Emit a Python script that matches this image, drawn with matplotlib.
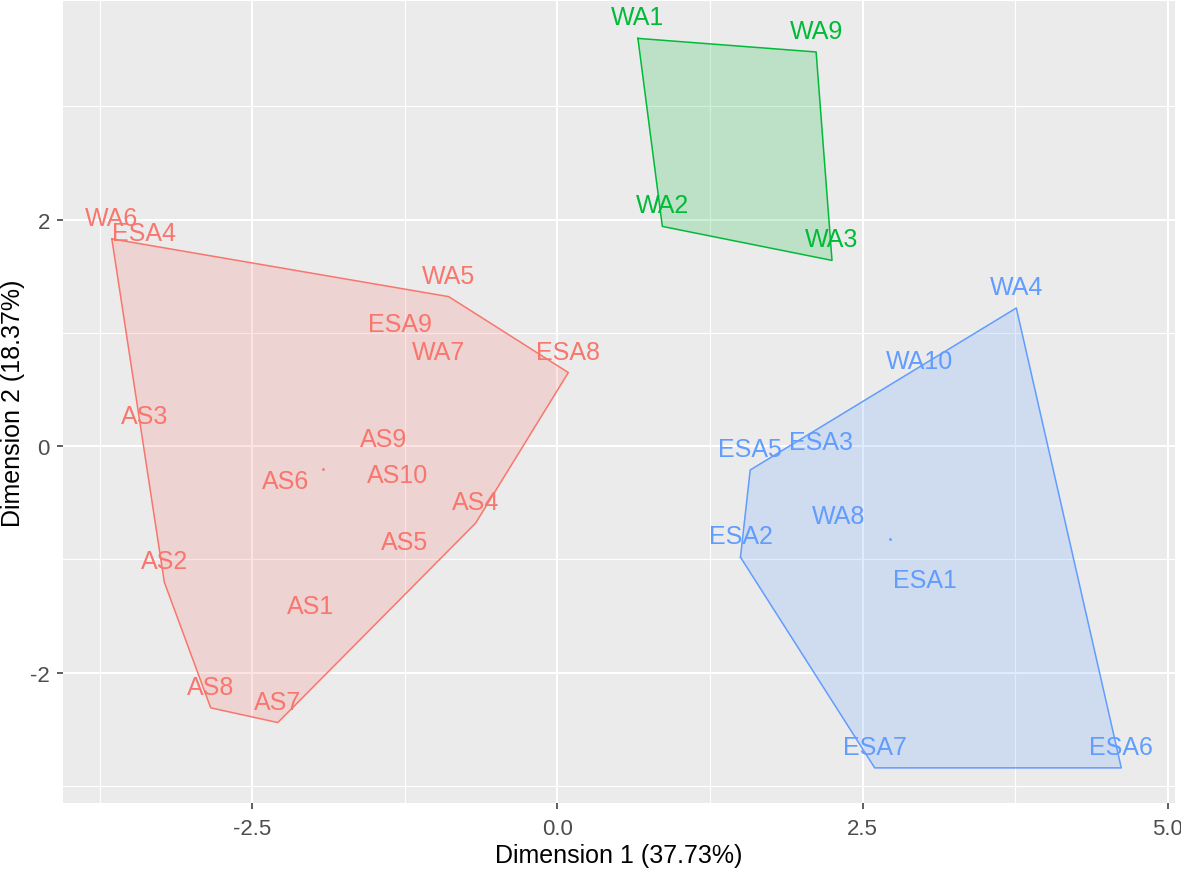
import numpy as np
from matplotlib import pyplot as plt

plt.rcParams['font.family'] = ['Liberation Sans', 'DejaVu Sans']
plt.rcParams['axes.unicode_minus'] = False

# Cluster members (Dim1, Dim2)
red_names = ['WA6', 'ESA4', 'WA5', 'ESA9', 'WA7', 'ESA8', 'AS3', 'AS9',
             'AS6', 'AS10', 'AS4', 'AS5', 'AS2', 'AS1', 'AS8', 'AS7']
red_x = [-3.65, -3.39, -0.89, -1.29, -0.97, 0.09, -3.38, -1.42,
         -2.23, -1.31, -0.67, -1.25, -3.22, -2.02, -2.84, -2.29]
red_y = [1.83, 1.70, 1.32, 0.89, 0.65, 0.65, 0.08, -0.12,
         -0.49, -0.44, -0.68, -1.03, -1.20, -1.60, -2.31, -2.44]

green_names = ['WA1', 'WA9', 'WA2', 'WA3']
green_x = [0.66, 2.12, 0.86, 2.25]
green_y = [3.60, 3.48, 1.94, 1.64]

blue_names = ['WA4', 'WA10', 'ESA5', 'ESA3', 'WA8', 'ESA2', 'ESA1', 'ESA7', 'ESA6']
blue_x = [3.76, 2.97, 1.58, 2.16, 2.30, 1.50, 3.01, 2.60, 4.62]
blue_y = [1.22, 0.57, -0.21, -0.15, -0.80, -0.98, -1.37, -2.84, -2.84]

# name, x, y, colour, show centre dot
clusters = [
    (red_names, red_x, red_y, '#F8766D', True),
    (green_names, green_x, green_y, '#00BA38', False),
    (blue_names, blue_x, blue_y, '#619CFF', True),
]


def convex_hull(pts):
    pts = sorted(set(pts))
    def cross(o, a, b):
        return (a[0] - o[0]) * (b[1] - o[1]) - (a[1] - o[1]) * (b[0] - o[0])
    lower, upper = [], []
    for p in pts:
        while len(lower) >= 2 and cross(lower[-2], lower[-1], p) <= 0:
            lower.pop()
        lower.append(p)
    for p in reversed(pts):
        while len(upper) >= 2 and cross(upper[-2], upper[-1], p) <= 0:
            upper.pop()
        upper.append(p)
    return lower[:-1] + upper[:-1]


fig = plt.figure(figsize=(11.81, 8.78), dpi=100)
ax = fig.add_axes([63 / 1181, 1 - 804 / 878, 1112 / 1181, 802 / 878])
ax.set_facecolor('#EBEBEB')
for s in ax.spines.values():
    s.set_visible(False)

ax.set_xlim(-4.05, 5.06)
ax.set_ylim(-3.15, 3.93)
ax.set_xticks([-2.5, 0.0, 2.5, 5.0])
ax.set_xticklabels(['-2.5', '0.0', '2.5', '5.0'])
ax.set_yticks([-2, 0, 2])
ax.set_xticks([-3.75, -1.25, 1.25, 3.75], minor=True)
ax.set_yticks([-3, -1, 1, 3], minor=True)
ax.grid(which='major', color='white', linewidth=1.5)
ax.grid(which='minor', color='white', linewidth=0.8)
ax.set_axisbelow(True)
ax.tick_params(which='major', length=4, width=1.1, color='#333333',
               labelcolor='#4D4D4D', labelsize=16)
ax.tick_params(axis='x', which='major', pad=6.5)
ax.tick_params(axis='y', which='major', pad=5.5)
ax.tick_params(which='minor', length=0)

for names, xs, ys, col, centre in clusters:
    hull = convex_hull(list(zip(xs, ys)))
    hx = [p[0] for p in hull] + [hull[0][0]]
    hy = [p[1] for p in hull] + [hull[0][1]]
    ax.fill(hx, hy, facecolor=col, alpha=0.2, edgecolor='none', zorder=2)
    ax.plot(hx, hy, color=col, linewidth=1.1, zorder=3)
    for n, x, y in zip(names, xs, ys):
        ax.annotate(n, (x, y), xytext=(0, 14), textcoords='offset pixels',
                    ha='center', va='baseline', color=col, fontsize=18,
                    zorder=4)
    if centre:
        ax.plot(np.mean(xs), np.mean(ys), 'o', color=col, markersize=2,
                markeredgewidth=0, zorder=4)

ax.set_xlabel('Dimension 1 (37.73%)', fontsize=18, labelpad=3)
ax.set_ylabel('Dimension 2 (18.37%)', fontsize=18, va='center')
ax.yaxis.set_label_coords((13 - 63) / 1112, 0.5)

fig.savefig('out.png', dpi=100)
